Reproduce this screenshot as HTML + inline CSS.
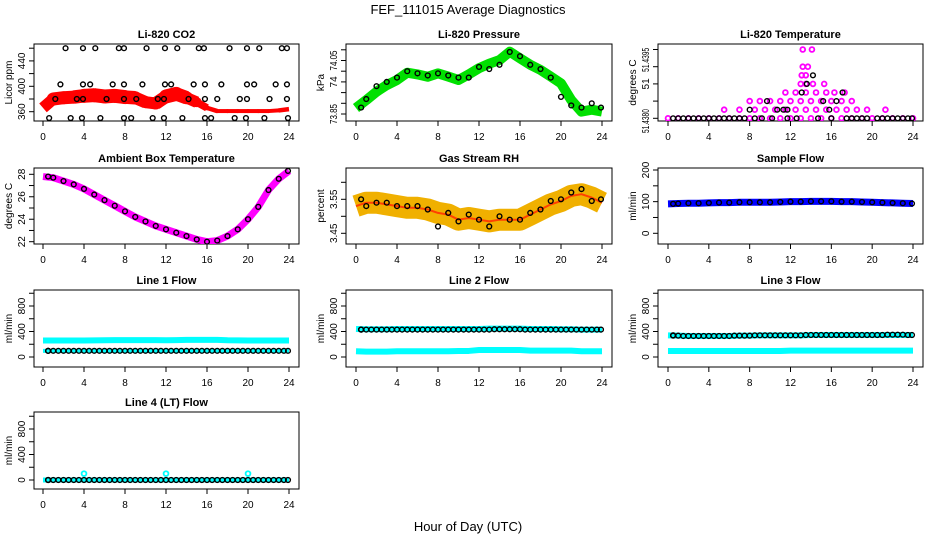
<!DOCTYPE html>
<html><head><meta charset="utf-8"><style>
html,body{margin:0;padding:0;background:#fff}
svg{display:block;font-family:"Liberation Sans",sans-serif}
</style></head><body>
<svg id="c" width="936" height="540" viewBox="0 0 936 540">
<text x="468" y="14" text-anchor="middle" font-size="13">FEF_111015  Average Diagnostics</text>
<text x="468" y="531" text-anchor="middle" font-size="13">Hour of Day (UTC)</text>
</svg>
<script>
const hours=[0,1,2,3,4,5,6,7,8,9,10,11,12,13,14,15,16,17,18,19,20,21,22,23,24];
const xTicks=[0,4,8,12,16,20,24];
// CO2
const co2Band=[366,380,382,383,385,386,384,385,383,382,375,373,384,388,382,375,366,361,361,361,361,361,361,362,364];
const co2BandW=[10,13,13,13,14,14,14,14,14,13,12,12,14,14,13,10,5,4,4,4,4,4,4,4,5];
const co2BlackX=[2.2,3.9,5.1,7.4,7.9,10.1,11.9,13.1,15.2,15.7,18.2,19.9,21.1,23.3,23.8,1.7,3.9,4.6,6.8,7.9,9.7,11.9,12.5,14.7,15.8,17.4,19.9,20.6,22.7,23.8,1.2,3.3,3.9,6.2,7.9,9.1,11.2,11.8,14.2,15.8,17.0,19.2,19.9,22.1,23.8,0.6,2.7,3.8,5.6,7.9,8.6,10.7,11.8,13.6,15.8,16.4,18.7,19.8,21.6,23.9];
const co2BlackY=[460,460,460,460,460,460,460,460,460,460,460,460,460,460,460,403,403,403,403,403,403,403,403,403,403,403,403,403,403,403,380,380,380,380,380,380,380,380,380,380,380,380,380,380,380,350,350,350,350,350,350,350,350,350,350,350,350,350,350,350];
// Pressure
const presBand=[73.878,73.915,73.954,73.985,74.009,74.043,74.035,74.024,74.040,74.025,74.009,74.035,74.064,74.085,74.102,74.141,74.110,74.080,74.056,74.025,73.993,73.915,73.861,73.87,73.861];
const presBlack=[73.88,73.92,73.98,74.0,74.02,74.05,74.04,74.03,74.04,74.03,74.02,74.02,74.07,74.06,74.08,74.14,74.12,74.08,74.06,74.02,73.93,73.89,73.88,73.9,73.88];
// Temperature levels
const tempMagX=[0,1,2,3,4,5,6,7,8,9,10,11,12,13,14,15,16,17,18,19,20,21,22,23,24,5.5,7,8.5,9.5,10.5,11.5,12.5,13.5,14.5,15.5,16.5,17.5,18.5,19.5,21.3,8,9,10,11,12,13,14,15,16,17,18,11.5,12.5,13.5,14.5,15.5,16.3,17.3,13,13.5,14.2,15.3,13.1,13.5,13.2,13.7,13.2,14.1];
const tempMagY=[51.438,51.438,51.438,51.438,51.438,51.438,51.438,51.438,51.438,51.438,51.438,51.438,51.438,51.438,51.438,51.438,51.438,51.438,51.438,51.438,51.438,51.438,51.438,51.438,51.438,51.43825,51.43825,51.43825,51.43825,51.43825,51.43825,51.43825,51.43825,51.43825,51.43825,51.43825,51.43825,51.43825,51.43825,51.43825,51.4385,51.4385,51.4385,51.4385,51.4385,51.4385,51.4385,51.4385,51.4385,51.4385,51.4385,51.43875,51.43875,51.43875,51.43875,51.43875,51.43875,51.43875,51.439,51.439,51.439,51.439,51.43925,51.43925,51.4395,51.4395,51.44,51.44];
const tempBlkX=[0.5,1,1.5,2,2.5,3,3.5,4,4.5,5,5.5,6,6.5,7,7.5,8.5,9.2,10.2,11.7,12.6,14.7,16,17.5,18,18.5,19,19.5,20.5,21,21.5,22,22.5,23,23.5,23.9,8,10.7,11.3,11.7,15.8,9.7,15.2,16.5,13.1,17.1,13.6,14.2];
const tempBlkY=[51.438,51.438,51.438,51.438,51.438,51.438,51.438,51.438,51.438,51.438,51.438,51.438,51.438,51.438,51.438,51.438,51.438,51.438,51.438,51.438,51.438,51.438,51.438,51.438,51.438,51.438,51.438,51.438,51.438,51.438,51.438,51.438,51.438,51.438,51.438,51.43825,51.43825,51.43825,51.43825,51.43825,51.4385,51.4385,51.4385,51.43875,51.43875,51.439,51.43925];
// Ambient
const ambient=[27.8,27.7,27.4,27.1,26.7,26.2,25.7,25.2,24.7,24.2,23.8,23.4,23.1,22.8,22.5,22.2,22.0,22.1,22.5,23.1,24.0,25.1,26.6,27.6,28.3];
// RH
const rhBand=[3.53,3.54,3.54,3.535,3.53,3.525,3.525,3.52,3.51,3.505,3.49,3.495,3.49,3.485,3.49,3.49,3.49,3.505,3.52,3.535,3.545,3.56,3.565,3.555,3.54];
const rhBlack=[3.55,3.53,3.54,3.54,3.53,3.53,3.53,3.52,3.47,3.51,3.485,3.505,3.49,3.47,3.50,3.49,3.49,3.51,3.52,3.545,3.55,3.57,3.58,3.545,3.55];
// Flows
const sampleFlow=[93,94,95,95,96,97,97,98,98,98,98,99,100,100,101,101,101,100,100,99,98,97,96,95,94];
const l1Cyan=[258,258,258,258,258,260,262,265,265,265,265,265,262,265,268,268,268,268,262,260,258,258,258,258,258];
const l1Black=[97,97,97,97,97,97,97,97,97,97,97,97,97,97,97,97,97,97,97,97,97,97,97,97,97];
const l2CyanHi=[440,435,435,435,440,440,440,440,440,440,440,440,440,445,445,445,445,440,440,440,435,435,430,430,430];
const l2Black=[430,430,430,430,430,430,430,430,430,430,430,430,430,430,435,435,435,430,430,430,430,430,430,430,430];
const l2CyanLo=[90,85,85,85,90,90,90,90,90,90,95,95,110,110,110,110,110,100,100,100,100,100,90,90,90];
const l3CyanHi=[340,335,330,330,330,330,330,335,335,340,340,340,340,340,345,345,345,345,345,345,345,345,345,345,345];
const l3Black=[340,335,330,330,330,330,330,335,335,340,340,340,340,340,345,345,345,345,345,345,345,345,350,350,345];
const l3CyanLo=[95,95,95,95,95,95,95,95,95,95,95,95,100,100,100,100,100,100,100,100,100,100,100,100,100];
const l4Cyan=[0,0,0,0,0,0,0,0,0,0,0,0,0,0,0,0,0,0,0,0,0,0,0,0,0];
const l4CyanOutX=[4,12,20];
const l4CyanOutY=[100,100,100];
const l4Black=[0,0,0,0,0,0,0,0,0,0,0,0,0,0,0,0,0,0,0,0,0,0,0,0,0];

const NS='http://www.w3.org/2000/svg';
const svg=document.getElementById('c');
const cols=[{x0:43,x24:289,L:34,R:299},{x0:356,x24:602,L:346,R:612},{x0:668,x24:913,L:658,R:923}];
const rows=[{T:44,B:121},{T:168,B:244},{T:290,B:367},{T:412,B:489}];
function el(tag,attrs,parent){const e=document.createElementNS(NS,tag);for(const k in attrs)e.setAttribute(k,attrs[k]);(parent||svg).appendChild(e);return e;}
function makePanel(name,title,ci,ri,v1,p1,v2,p2,yTicks,yLabels,ytitle,labelPos,squeeze){
  const c=cols[ci],r=rows[ri];
  const g=el('g',{});
  
  
  const xs=h=>c.x0+(c.x24-c.x0)*h/24;
  const ys=v=>p1+(p2-p1)*(v-v1)/(v2-v1);
  const t=el('text',{x:(c.L+c.R)/2,y:r.T-6,'text-anchor':'middle','font-size':11,'font-weight':'bold'},g);
  t.textContent=title;
  
  
  const bx=el('rect',{x:c.L,y:r.T,width:c.R-c.L,height:r.B-r.T,fill:'none',stroke:'#000','stroke-width':1},g);
  
  
  el('line',{x1:xs(xTicks[0]),x2:xs(xTicks[xTicks.length-1]),y1:r.B,y2:r.B,stroke:'#000'},g);
  xTicks.forEach(h=>{
    el('line',{x1:xs(h),x2:xs(h),y1:r.B,y2:r.B+5,stroke:'#000'},g);
    const tl=el('text',{x:xs(h),y:r.B+19,'text-anchor':'middle','font-size':10},g);
    tl.textContent=h;
    
    
  });
  el('line',{x1:c.L,x2:c.L,y1:ys(yTicks[0]),y2:ys(yTicks[yTicks.length-1]),stroke:'#000'},g);
  yTicks.forEach((v,i)=>{
    const y=ys(v);
    el('line',{x1:c.L-5,x2:c.L,y1:y,y2:y,stroke:'#000'},g);
    if(yLabels[i]){
      const ly=labelPos&&labelPos[i]!=null?ys(labelPos[i]):y;
      const tl=el('text',{x:0,y:0,'text-anchor':'middle','font-size':10,transform:`translate(${c.L-9},${ly}) rotate(-90)`},g);
      tl.textContent=yLabels[i];
      if(squeeze&&yLabels[i].length>4){tl.setAttribute('textLength',squeeze);tl.setAttribute('lengthAdjust','spacingAndGlyphs');}
      
      
    }
  });
  const yt=el('text',{x:0,y:0,'text-anchor':'middle','font-size':10,transform:`translate(${c.L-22},${(r.T+r.B)/2}) rotate(-90)`},g);
  yt.textContent=ytitle;
  
  
  const clip='clip'+name;
  const cp=el('clipPath',{id:clip},g);
  el('rect',{x:c.L,y:r.T,width:c.R-c.L,height:r.B-r.T},cp);
  const plot=el('g',{'clip-path':`url(#${clip})`},g);
  return {xs,ys,plot};
}
function band(P,xv,yv,color,w,name){
  if(Array.isArray(w)){
    for(let i=0;i<xv.length-1;i++){
      const s=el('line',{x1:P.xs(xv[i]),y1:P.ys(yv[i]),x2:P.xs(xv[i+1]),y2:P.ys(yv[i+1]),stroke:color,'stroke-width':(w[i]+w[i+1])/2,'stroke-linecap':'butt'},P.plot);
      
      
      if(i>0){const j=el('circle',{cx:P.xs(xv[i]),cy:P.ys(yv[i]),r:w[i]/2,fill:color},P.plot);
      
      }
    }
  } else {
    const pl=el('polyline',{points:xv.map((h,i)=>P.xs(h)+','+P.ys(yv[i])).join(' '),fill:'none',stroke:color,'stroke-width':w,'stroke-linejoin':'round','stroke-linecap':'butt'},P.plot);
    
    
  }
}
function pts(P,xv,yv,color,name,sw){
  xv.forEach((h,i)=>{
    const p=el('circle',{cx:P.xs(h),cy:P.ys(yv[i]),r:2.4,fill:'none',stroke:color,'stroke-width':sw||1.4},P.plot);
    
    
  });
}
const hrsShift=hours.map(h=>h===0?0.5:h===24?23.9:h);
const hrsHalf=hours.map(h=>h===0?0.5:h-0.5);

P=makePanel('co2-panel','Li-820 CO2',0,0,360,111.7,460,48.2,[360,380,400,420,440,460],['360','','400','','440',''],'Licor ppm');
band(P,hours,co2Band,'#ff0000',co2BandW,'co2-band');
pts(P,co2BlackX,co2BlackY,'#000','co2-point');
P=makePanel('pressure-panel','Li-820 Pressure',1,0,73.85,114,74.15,49.8,[73.85,73.9,73.95,74.0,74.05,74.1,74.15],['73.85','','','74','','74.05',''],'kPa',null,20);
band(P,hours,presBand,'#00e000',10,'pressure-band');
pts(P,hrsShift,presBlack,'#000','pressure-point');
P=makePanel('temperature-panel','Li-820 Temperature',2,0,51.438,118.3,51.44,49.5,[51.438,51.4385,51.439,51.4395,51.44],['51.4380','','51','51.4395',''],'degrees C',[51.43792,null,51.439,51.4397,null],24);
pts(P,tempMagX,tempMagY,'#ff00ff','temperature-point',1.8);
pts(P,tempBlkX,tempBlkY,'#000','temperature-black-point');
P=makePanel('ambient-panel','Ambient Box Temperature',0,1,22,241.7,28,174.3,[22,23,24,25,26,27,28],['22','','24','','26','','28'],'degrees C');
band(P,hours,ambient,'#ff00ff',7,'ambient-band');
pts(P,hrsShift,ambient,'#000','ambient-point');
P=makePanel('rh-panel','Gas Stream RH',1,1,3.45,233.3,3.6,182.3,[3.45,3.5,3.55,3.6],['3.45','','3.55',''],'percent');
band(P,hours,rhBand,'#f0b000',22,'rh-band');
band(P,hours,rhBand,'#ff4000',2,'rh-band-core');
pts(P,hrsShift,rhBlack,'#000','rh-point');
P=makePanel('sample-flow-panel','Sample Flow',2,1,0,233.3,200,170,[0,50,100,150,200],['0','','100','','200'],'ml/min');
band(P,hours,sampleFlow,'#0000ff',7,'sample-flow-band');
pts(P,hrsShift,sampleFlow,'#000','sample-flow-point');
const fT=[0,200,400,600,800,1000],fL=['0','','400','','800',''];
P=makePanel('line1-panel','Line 1 Flow',0,2,0,357,800,306,fT,fL,'ml/min');
band(P,hours,l1Cyan,'#00ffff',6,'line1-cyan');
band(P,hours,l1Black,'#00ffff',4,'line1-cyan-low');
pts(P,hrsShift,l1Black,'#000','line1-point');
pts(P,hrsHalf,l1Black,'#000','line1-point');
P=makePanel('line2-panel','Line 2 Flow',1,2,0,357,800,306,fT,fL,'ml/min');
band(P,hours,l2CyanHi,'#00ffff',6,'line2-cyan-high');
band(P,hours,l2CyanLo,'#00ffff',6,'line2-cyan-low');
pts(P,hrsShift,l2Black,'#000','line2-point');
pts(P,hrsHalf,l2Black,'#000','line2-point');
P=makePanel('line3-panel','Line 3 Flow',2,2,0,357,800,306,fT,fL,'ml/min');
band(P,hours,l3CyanHi,'#00ffff',6,'line3-cyan-high');
band(P,hours,l3CyanLo,'#00ffff',6,'line3-cyan-low');
pts(P,hrsShift,l3Black,'#000','line3-point');
pts(P,hrsHalf,l3Black,'#000','line3-point');
P=makePanel('line4-panel','Line 4 (LT) Flow',0,3,0,480,800,429,fT,fL,'ml/min');
band(P,hours,l4Cyan,'#00ffff',5,'line4-cyan');
pts(P,l4CyanOutX,l4CyanOutY,'#00ffff','line4-outlier',1.8);
pts(P,hrsShift,l4Black,'#000','line4-point');
pts(P,hrsHalf,l4Black,'#000','line4-point');
</script>
</body></html>
